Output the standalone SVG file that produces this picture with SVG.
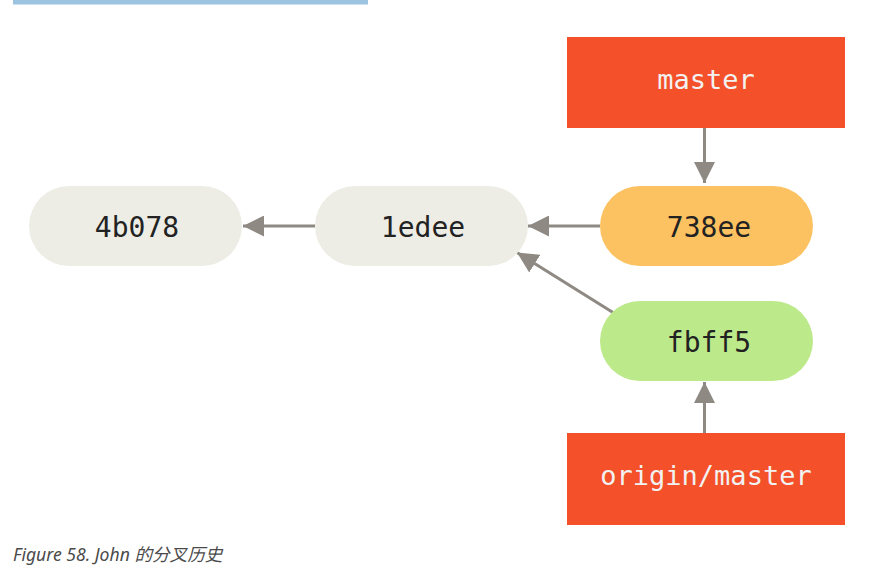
<svg xmlns="http://www.w3.org/2000/svg" width="886" height="577" viewBox="0 0 886 577">
<style>
.ref{fill:#f4502a}
.reft{font-family:"DejaVu Sans Mono","Liberation Mono",monospace;font-size:27px;fill:#f2f2f2;text-anchor:middle}
.ct{font-family:"DejaVu Sans Mono","Liberation Mono",monospace;font-size:28px;fill:#222;text-anchor:middle}
.conn{stroke:#8e8982;stroke-width:3;fill:none}
.cap{font-family:"Noto Sans","Noto Sans CJK SC",sans-serif;font-style:italic;font-size:17.6px;fill:#4a4a4a}
</style>
<defs>
<marker id="ah" markerWidth="21" markerHeight="21" viewBox="0 0 21 21" refX="21" refY="10.5" orient="auto" markerUnits="userSpaceOnUse">
<path d="M0,0 L21,10.5 L0,21 Z" fill="#8e8982"/>
</marker>
</defs>
<rect width="886" height="577" fill="#ffffff"/>
<rect x="13" y="0" width="355" height="4.5" fill="#9cc3df"/>
<g id="connectors">
<line class="conn" x1="704.5" y1="128" x2="704.5" y2="183" marker-end="url(#ah)"/>
<line class="conn" x1="704.5" y1="433" x2="704.5" y2="382" marker-end="url(#ah)"/>
<line class="conn" x1="600" y1="226" x2="528" y2="226" marker-end="url(#ah)"/>
<line class="conn" x1="315" y1="226" x2="243" y2="226" marker-end="url(#ah)"/>
<line class="conn" x1="613" y1="312.5" x2="517" y2="252.5" marker-end="url(#ah)"/>
</g>
<g id="master">
<rect class="ref" x="567" y="37" width="278" height="91"/>
<text class="reft" x="706" y="89">master</text>
</g>
<g id="c4b078">
<rect x="29" y="186" width="213" height="80" rx="40" fill="#ededE6"/>
<text class="ct" x="137" y="237">4b078</text>
</g>
<g id="c1edee">
<rect x="315" y="186" width="213" height="80" rx="40" fill="#ededE6"/>
<text class="ct" x="423" y="237">1edee</text>
</g>
<g id="c738ee">
<rect x="600" y="186" width="213" height="80" rx="40" fill="#fcc160"/>
<text class="ct" x="709" y="237">738ee</text>
</g>
<g id="cfbff5">
<rect x="600" y="301" width="213" height="80" rx="40" fill="#bce98a"/>
<text class="ct" x="709" y="352">fbff5</text>
</g>
<g id="origin-master">
<rect class="ref" x="567" y="433" width="278" height="92"/>
<text class="reft" x="706" y="485">origin/master</text>
</g>
<text class="cap" x="13" y="561">Figure 58. John 的分叉历史</text>
</svg>
